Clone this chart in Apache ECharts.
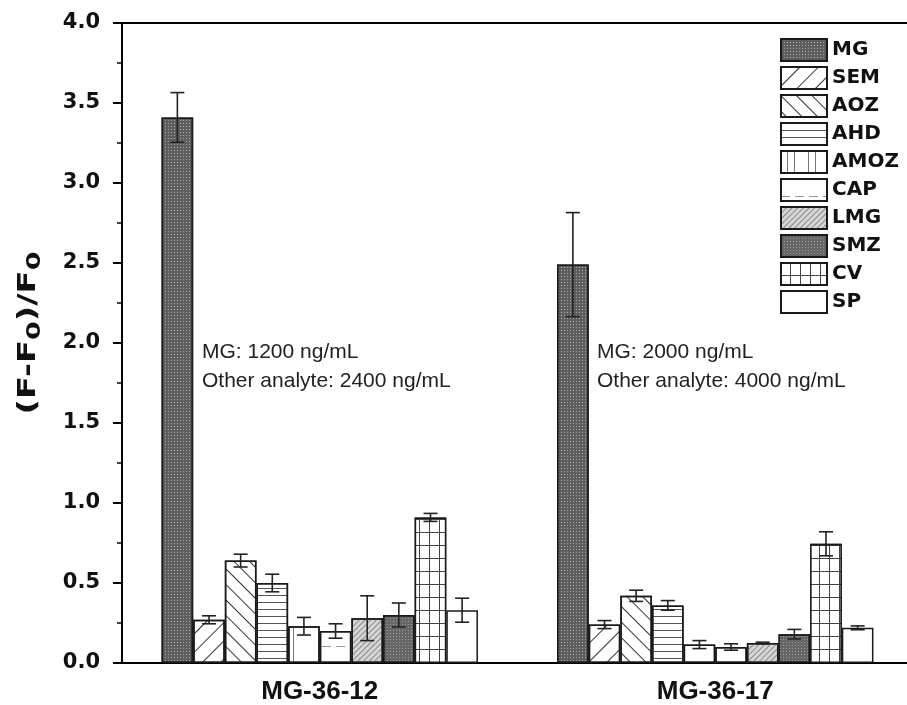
<!DOCTYPE html>
<html>
<head>
<meta charset="utf-8">
<script src="https://cdn.jsdelivr.net/npm/echarts@6/dist/echarts.min.js"></script>
<style>
  html, body { margin: 0; padding: 0; background: #fff; }
  #main { width: 907px; height: 705px; }
</style>
</head>
<body>
<div id="main"></div>
<script>
var chart = echarts.init(document.getElementById('main'));

// 数据
var categories = ['MG-36-12', 'MG-36-17'];
var analytes = ['MG', 'SEM', 'AOZ', 'AHD', 'AMOZ', 'CAP', 'LMG', 'SMZ', 'CV', 'SP'];
var vals_12 = [3.41, 0.27, 0.64, 0.50, 0.23, 0.20, 0.28, 0.30, 0.91, 0.33];
var errs_12 = [0.155, 0.025, 0.04, 0.055, 0.055, 0.045, 0.14, 0.075, 0.025, 0.075];
var vals_17 = [2.49, 0.24, 0.42, 0.36, 0.115, 0.10, 0.125, 0.18, 0.745, 0.22];
var errs_17 = [0.325, 0.025, 0.035, 0.03, 0.025, 0.02, 0.005, 0.03, 0.075, 0.012];
var yTicks = [0, 0.5, 1.0, 1.5, 2.0, 2.5, 3.0, 3.5, 4.0];

// 填充图案
var fills = [
    { color: '#5e5e5e', decal: { symbol: 'rect', symbolSize: 1, color: 'rgba(220,220,220,0.6)', dashArrayX: [1, 2], dashArrayY: [1, 2] } },
    { color: '#fff', decal: { symbol: 'rect', symbolSize: 1, color: '#333', dashArrayX: [1, 0], dashArrayY: [1, 12], rotation: -Math.PI / 4 } },
    { color: '#fff', decal: { symbol: 'rect', symbolSize: 1, color: '#333', dashArrayX: [1, 0], dashArrayY: [1, 10], rotation: Math.PI / 4 } },
    { color: '#fff', decal: { symbol: 'rect', symbolSize: 1, color: '#555', dashArrayX: [1, 0], dashArrayY: [1, 6] } },
    { color: '#fff', decal: { symbol: 'rect', symbolSize: 1, color: '#777', dashArrayX: [1, 0], dashArrayY: [1, 6], rotation: Math.PI / 2 } },
    { color: '#fff', decal: { symbol: 'rect', symbolSize: 1, color: '#999', dashArrayX: [9, 5], dashArrayY: [1, 16] } },
    { color: '#d6d6d6', decal: { symbol: 'rect', symbolSize: 1, color: '#8a8a8a', dashArrayX: [1, 0], dashArrayY: [1, 3], rotation: -Math.PI / 4 } },
    { color: '#666', decal: { symbol: 'rect', symbolSize: 1, color: 'rgba(210,210,210,0.5)', dashArrayX: [1, 2], dashArrayY: [1, 2] } },
    { color: '#444', decal: { symbol: 'rect', symbolSize: 1, color: '#fff', dashArrayX: [9, 1], dashArrayY: [12, 1] } },
    { color: '#fff', decal: null }
];

var series = [];
var errData = [];
for (var i = 0; i < analytes.length; i++) {
    var st = { color: fills[i].color, borderColor: '#1a1a1a', borderWidth: 1.5 };
    if (fills[i].decal) st.decal = fills[i].decal;
    series.push({
        name: analytes[i],
        type: 'bar',
        barGap: '0%',
        barCategoryGap: '20%',
        itemStyle: st,
        data: [vals_12[i], vals_17[i]]
    });
    errData.push([0, vals_12[i] - errs_12[i], vals_12[i] + errs_12[i], i]);
    errData.push([1, vals_17[i] - errs_17[i], vals_17[i] + errs_17[i], i]);
}

// 误差线
series.push({
    type: 'custom',
    name: 'err',
    z: 10,
    silent: true,
    renderItem: function (params, api) {
        var cat = api.value(0);
        var lo = api.coord([cat, api.value(1)]);
        var hi = api.coord([cat, api.value(2)]);
        var band = api.size([1, 0])[0];
        var bw = band * 0.8 / analytes.length;
        var x = lo[0] + (api.value(3) - (analytes.length - 1) / 2) * bw;
        var cap = 7;
        var sty = { stroke: '#222', lineWidth: 1.6 };
        return {
            type: 'group',
            children: [
                { type: 'line', shape: { x1: x, y1: lo[1], x2: x, y2: hi[1] }, style: sty },
                { type: 'line', shape: { x1: x - cap, y1: lo[1], x2: x + cap, y2: lo[1] }, style: sty },
                { type: 'line', shape: { x1: x - cap, y1: hi[1], x2: x + cap, y2: hi[1] }, style: sty }
            ]
        };
    },
    encode: { x: 0, y: [1, 2] },
    data: errData
});

var noteFont = '21px "Liberation Sans"';
var option = {
    animation: false,
    backgroundColor: '#fff',
    grid: {
        left: 122, width: 791, top: 23, height: 640,
        outerBoundsMode: 'none',
        show: false
    },
    legend: {
        data: analytes,
        orient: 'vertical',
        left: 775, top: 33,
        itemWidth: 46, itemHeight: 22, itemGap: 4,
        icon: 'rect',
        textStyle: { fontFamily: 'DejaVu Sans', fontWeight: 'bold', fontSize: 20, color: '#111' }
    },
    xAxis: [{
        type: 'category',
        data: categories,
        axisLine: { lineStyle: { color: '#000', width: 2 } },
        axisTick: { alignWithLabel: true, length: 11, lineStyle: { color: '#000', width: 2 } },
        axisLabel: { margin: 16, fontFamily: 'Liberation Sans', fontWeight: 'bold', fontSize: 26, color: '#111' }
    }, {
        type: 'category',
        position: 'top',
        data: categories,
        axisLine: { lineStyle: { color: '#000', width: 2 } },
        axisTick: { show: false },
        axisLabel: { show: false }
    }],
    yAxis: {
        type: 'value',
        min: 0, max: 4, interval: 0.5,
        splitLine: { show: false },
        axisLine: { show: true, lineStyle: { color: '#000', width: 2 } },
        axisTick: { show: true, length: 9, lineStyle: { color: '#000', width: 2 } },
        minorTick: { show: true, splitNumber: 2, length: 5, lineStyle: { color: '#000', width: 1.5 } },
        axisLabel: {
            margin: 22, fontFamily: 'DejaVu Sans', fontWeight: 'bold', fontSize: 21, color: '#111',
            formatter: function (v) { return yTicks.indexOf(v) >= 0 ? v.toFixed(1) : ''; }
        }
    },
    graphic: [
        {
            type: 'text', x: 28, y: 333, rotation: Math.PI / 2, scaleX: 1.35, z: 100,
            style: {
                text: '(F-F{s|0})/F{s|0}',
                font: 'bold 25px "DejaVu Sans"',
                fill: '#111',
                align: 'center', verticalAlign: 'middle',
                rich: { s: { fontFamily: 'DejaVu Sans', fontWeight: 'bold', fontSize: 20, padding: [14, 0, 0, 0], verticalAlign: 'bottom', fill: '#111' } }
            }
        },
        { type: 'text', x: 202, y: 352, z: 100, style: { text: 'MG: 1200 ng/mL', font: noteFont, fill: '#222', verticalAlign: 'middle' } },
        { type: 'text', x: 202, y: 381, z: 100, style: { text: 'Other analyte: 2400 ng/mL', font: noteFont, fill: '#222', verticalAlign: 'middle' } },
        { type: 'text', x: 597, y: 352, z: 100, style: { text: 'MG: 2000 ng/mL', font: noteFont, fill: '#222', verticalAlign: 'middle' } },
        { type: 'text', x: 597, y: 381, z: 100, style: { text: 'Other analyte: 4000 ng/mL', font: noteFont, fill: '#222', verticalAlign: 'middle' } }
    ],
    series: series
};
chart.setOption(option);
</script>
</body>
</html>
